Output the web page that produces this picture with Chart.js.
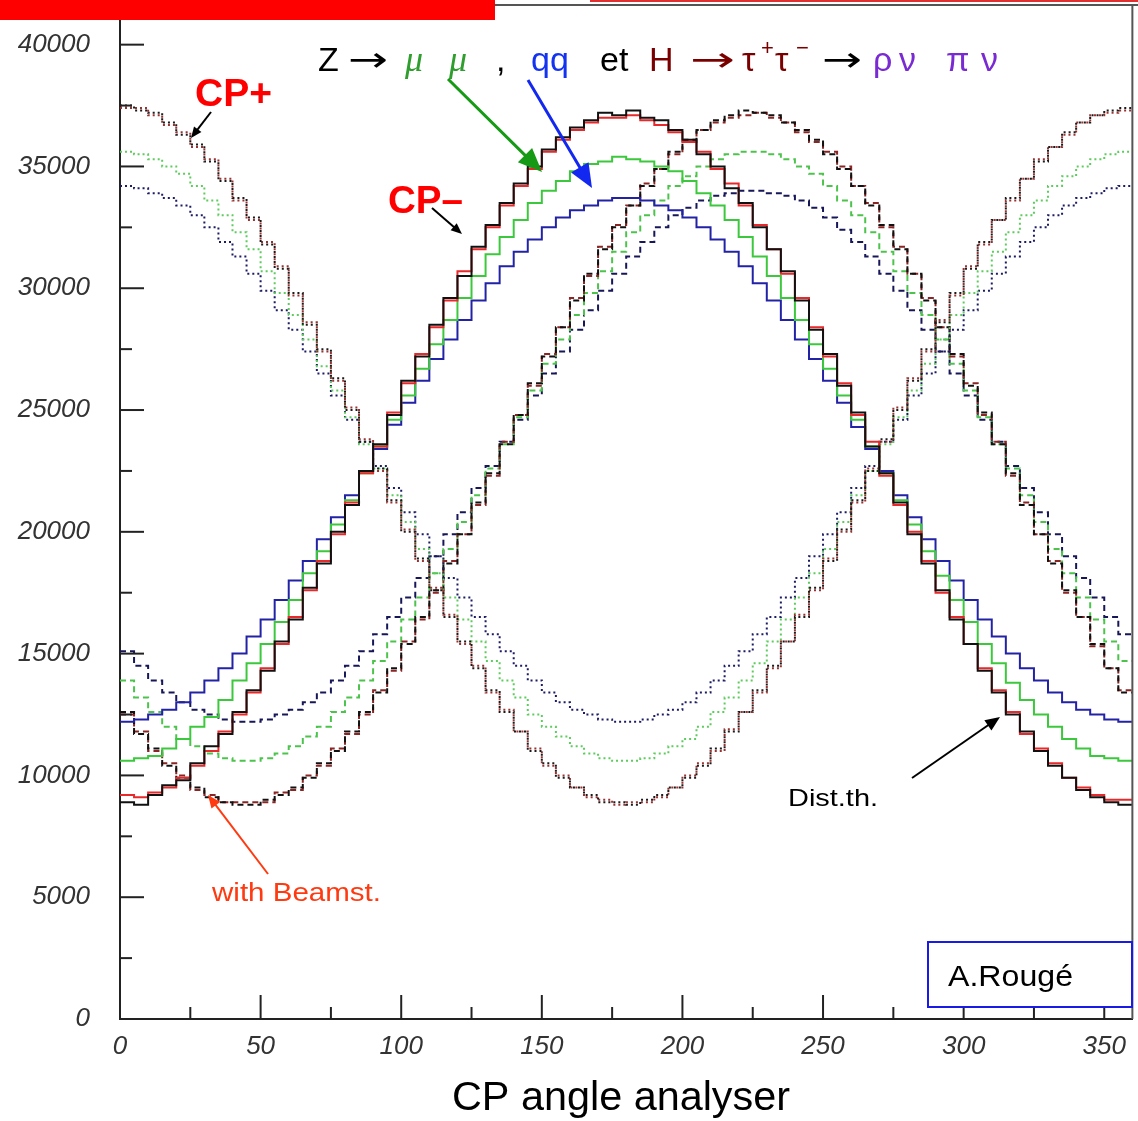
<!DOCTYPE html>
<html>
<head>
<meta charset="utf-8">
<script src="https://cdn.jsdelivr.net/npm/chart.js@4.4.1/dist/chart.umd.min.js"></script>
<style>
  html, body { margin: 0; padding: 0; background: #fff; }
  #wrap { position: relative; width: 1138px; height: 1121px; }
</style>
</head>
<body>
<div id="wrap"><canvas id="cpChart"></canvas></div>
<script>
// histogram bins: 72 bins of 5 degrees, 0 -> 360
const binWidth = 5;
const xTickValues = [0, 50, 100, 150, 200, 250, 300, 350];
const yTickValues = [0, 5000, 10000, 15000, 20000, 25000, 30000, 35000, 40000];

// CP- (solid), peak near 180
const cpMinusBlack = [8900, 8800, 9200, 9600, 9800, 10500, 11200, 11700, 12600, 13500, 14300, 15500, 16400, 17700, 18700, 20000, 21100, 22500, 23600, 24800, 26200, 27200, 28500, 29600, 30500, 31700, 32600, 33500, 34300, 35000, 35700, 36200, 36600, 36900, 37200, 37100,
  37300, 37000, 36900, 36500, 36100, 35500, 35000, 34100, 33500, 32500, 31600, 30700, 29500, 28300, 27300, 26000, 24900, 23500, 22400, 21200, 19900, 18700, 17600, 16400, 15400, 14300, 13400, 12500, 11800, 11000, 10400, 9900, 9400, 9100, 8900, 8800];
const cpMinusRed = [9200, 9100, 9300, 9500, 9900, 10400, 11000, 11800, 12500, 13400, 14400, 15400, 16500, 17600, 18800, 19900, 21200, 22400, 23500, 24900, 26100, 27300, 28400, 29500, 30700, 31600, 32500, 33400, 34200, 34900, 35600, 36100, 36500, 36800, 37000, 37000,
  37100, 36900, 36700, 36400, 36000, 35600, 34900, 34300, 33400, 32600, 31600, 30600, 29600, 28400, 27200, 26100, 24800, 23700, 22300, 21100, 20000, 18800, 17500, 16500, 15400, 14400, 13500, 12600, 11700, 11100, 10500, 9900, 9500, 9200, 9000, 9000];
const cpMinusGreen = [10600, 10700, 10800, 11100, 11500, 12000, 12400, 13100, 13900, 14600, 15400, 16300, 17200, 18300, 19200, 20300, 21300, 22400, 23500, 24600, 25600, 26700, 27700, 28700, 29600, 30500, 31400, 32100, 32800, 33500, 34000, 34400, 34800, 35100, 35200, 35400,
  35300, 35200, 35000, 34800, 34400, 33900, 33400, 32800, 32100, 31300, 30500, 29600, 28700, 27700, 26700, 25600, 24600, 23500, 22400, 21300, 20300, 19200, 18200, 17200, 16300, 15400, 14600, 13800, 13100, 12500, 12000, 11500, 11100, 10800, 10700, 10600];
const cpMinusBlue = [12200, 12300, 12500, 12700, 13000, 13400, 13900, 14400, 15000, 15700, 16400, 17200, 18000, 18800, 19700, 20600, 21500, 22500, 23400, 24400, 25300, 26200, 27100, 27900, 28700, 29500, 30200, 30900, 31500, 32000, 32500, 32900, 33200, 33400, 33600, 33700,
  33700, 33600, 33400, 33200, 32900, 32500, 32000, 31500, 30900, 30200, 29500, 28700, 27900, 27100, 26200, 25300, 24300, 23400, 22500, 21500, 20600, 19700, 18800, 18000, 17200, 16400, 15700, 15000, 14400, 13900, 13400, 13000, 12700, 12500, 12300, 12200];

// CP+ (dotted), peak at 0 / 360
const cpPlusBlack = [37500, 37300, 37200, 36800, 36300, 35900, 35200, 34400, 33700, 32900, 31800, 30800, 29800, 28500, 27500, 26300, 25000, 23700, 22600, 21300, 20000, 18900, 17600, 16500, 15500, 14400, 13500, 12600, 11800, 11000, 10500, 9900, 9500, 9200, 8900, 8900,
  8800, 9000, 9200, 9500, 9900, 10400, 11100, 11800, 12600, 13500, 14500, 15500, 16500, 17700, 18800, 20100, 21300, 22500, 23800, 25000, 26200, 27500, 28600, 29800, 30800, 31900, 32800, 33700, 34500, 35200, 35800, 36400, 36800, 37100, 37300, 37400];
const cpPlusRed = [37400, 37400, 37100, 36700, 36400, 35800, 35300, 34500, 33600, 32800, 31900, 30900, 29700, 28600, 27400, 26200, 25100, 23800, 22500, 21200, 20100, 18800, 17700, 16600, 15400, 14500, 13400, 12700, 11800, 11100, 10400, 10000, 9500, 9100, 9000, 8800,
  8900, 8900, 9100, 9500, 10000, 10500, 11000, 11900, 12600, 13400, 14400, 15500, 16600, 17600, 18900, 20000, 21200, 22600, 23700, 25100, 26300, 27400, 28700, 29700, 30900, 31800, 32800, 33600, 34500, 35300, 35800, 36300, 36800, 37100, 37200, 37300];
const cpPlusGreen = [35600, 35500, 35300, 35000, 34700, 34200, 33600, 33000, 32300, 31600, 30700, 29800, 28900, 27900, 26800, 25800, 24700, 23600, 22600, 21500, 20400, 19300, 18300, 17300, 16400, 15500, 14700, 13900, 13200, 12500, 12000, 11600, 11200, 10900, 10700, 10600,
  10600, 10700, 10900, 11200, 11500, 12000, 12600, 13200, 13900, 14600, 15500, 16400, 17300, 18300, 19300, 20400, 21500, 22500, 23600, 24700, 25800, 26900, 27900, 28900, 29800, 30700, 31500, 32300, 33000, 33600, 34200, 34600, 35000, 35300, 35500, 35600];
const cpPlusBlue = [34200, 34100, 33900, 33700, 33400, 33000, 32500, 31900, 31300, 30600, 29900, 29100, 28300, 27400, 26500, 25600, 24600, 23700, 22700, 21800, 20800, 19900, 19000, 18100, 17300, 16500, 15800, 15100, 14500, 13900, 13400, 13000, 12700, 12500, 12300, 12200,
  12200, 12300, 12500, 12700, 13000, 13400, 13900, 14500, 15100, 15800, 16500, 17300, 18100, 19000, 19900, 20800, 21800, 22700, 23700, 24600, 25600, 26500, 27400, 28300, 29100, 29900, 30600, 31300, 31900, 32500, 33000, 33400, 33700, 33900, 34100, 34200];

// with beamstrahlung (dashed), peak near 225
const beamBlack = [12600, 11700, 11100, 10400, 9900, 9500, 9100, 8900, 8800,
  8800, 9000, 9200, 9500, 9900, 10500, 11000, 11800, 12600, 13400, 14400, 15400, 16500, 17600, 18700, 19900, 21200, 22400, 23600, 24800, 26100, 27200, 28400, 29500, 30600, 31600, 32500, 33400, 34200, 34900, 35600, 36100, 36500, 36900, 37100, 37300,
  37200, 37100, 36800, 36500, 36100, 35500, 34900, 34200, 33400, 32600, 31600, 30600, 29500, 28400, 27300, 26000, 24900, 23600, 22400, 21100, 19900, 18700, 17600, 16500, 15400, 14400, 13400];
const beamRed = [12500, 11800, 11000, 10500, 10000, 9400, 9200, 8900, 8900,
  8900, 8900, 9300, 9400, 10000, 10400, 11100, 11700, 12500, 13500, 14300, 15500, 16400, 17500, 18800, 19900, 21100, 22300, 23700, 24800, 26000, 27300, 28400, 29600, 30500, 31700, 32600, 33400, 34300, 34900, 35500, 36000, 36500, 36800, 37000, 37100,
  37200, 37000, 36800, 36400, 36000, 35600, 35000, 34200, 33500, 32500, 31700, 30600, 29600, 28400, 27200, 26100, 24800, 23700, 22300, 21200, 19900, 18800, 17500, 16500, 15300, 14400, 13500];
const beamGreen = [13900, 13200, 12600, 12000, 11500, 11200, 10900, 10700, 10600,
  10600, 10700, 10900, 11200, 11600, 12000, 12600, 13200, 13900, 14700, 15500, 16400, 17300, 18300, 19300, 20400, 21500, 22600, 23600, 24700, 25800, 26900, 27900, 28900, 29800, 30700, 31500, 32300, 33000, 33600, 34200, 34600, 35000, 35300, 35500, 35600,
  35600, 35500, 35300, 35000, 34700, 34200, 33600, 33000, 32300, 31500, 30700, 29800, 28900, 27900, 26900, 25800, 24700, 23600, 22600, 21500, 20400, 19300, 18300, 17300, 16400, 15500, 14700];
const beamBlue = [15100, 14500, 13900, 13400, 13000, 12700, 12500, 12300, 12200,
  12200, 12300, 12500, 12700, 13000, 13400, 13900, 14500, 15100, 15800, 16500, 17300, 18100, 19000, 19900, 20800, 21800, 22700, 23700, 24600, 25600, 26500, 27400, 28300, 29100, 29900, 30600, 31300, 31900, 32500, 33000, 33300, 33600, 33800, 33900, 34000,
  34000, 33900, 33800, 33600, 33300, 32900, 32400, 31900, 31300, 30600, 29900, 29100, 28300, 27400, 26500, 25600, 24600, 23700, 22700, 21800, 20800, 19900, 19000, 18100, 17300, 16500, 15800];

// bin left edges + closing edge at 360
const toSteps = (vals) => {
  const pts = vals.map((v, i) => ({ x: i * binWidth, y: v }));
  pts.push({ x: vals.length * binWidth, y: vals[vals.length - 1] });
  return pts;
};

const series = [
  { data: cpMinusBlack, color: '#111111', dash: [], width: 2 },
  { data: cpMinusRed, color: '#e8282a', dash: [], width: 2 },
  { data: cpMinusGreen, color: '#3cc83c', dash: [], width: 2 },
  { data: cpMinusBlue, color: '#2222a6', dash: [], width: 2 },
  { data: cpPlusBlack, color: '#1a1a1a', dash: [2, 3], width: 2 },
  { data: cpPlusRed, color: '#9c3030', dash: [2, 3], width: 2 },
  { data: cpPlusGreen, color: '#5ccc5c', dash: [2, 3], width: 2 },
  { data: cpPlusBlue, color: '#1c1c66', dash: [2, 3], width: 2 },
  { data: beamBlack, color: '#111111', dash: [6, 4], width: 2 },
  { data: beamRed, color: '#8c2424', dash: [6, 4], width: 2 },
  { data: beamGreen, color: '#4cc44c', dash: [6, 4], width: 2 },
  { data: beamBlue, color: '#161658', dash: [6, 4], width: 2 }
];

const arrow = (ctx, x1, y1, x2, y2, color, lw, head) => {
  const a = Math.atan2(y2 - y1, x2 - x1);
  ctx.save();
  ctx.strokeStyle = color;
  ctx.fillStyle = color;
  ctx.lineWidth = lw;
  ctx.beginPath();
  ctx.moveTo(x1, y1);
  ctx.lineTo(x2 - Math.cos(a) * head * 0.8, y2 - Math.sin(a) * head * 0.8);
  ctx.stroke();
  ctx.beginPath();
  ctx.moveTo(x2, y2);
  ctx.lineTo(x2 - head * Math.cos(a - 0.4), y2 - head * Math.sin(a - 0.4));
  ctx.lineTo(x2 - head * Math.cos(a + 0.4), y2 - head * Math.sin(a + 0.4));
  ctx.closePath();
  ctx.fill();
  ctx.restore();
};

const text = (ctx, str, x, y, font, color, w) => {
  ctx.save();
  ctx.font = font;
  ctx.fillStyle = color;
  ctx.textBaseline = 'alphabetic';
  ctx.textAlign = 'left';
  if (w) {
    const m = ctx.measureText(str).width;
    ctx.translate(x, y);
    ctx.scale(w / m, 1);
    ctx.fillText(str, 0, 0);
  } else {
    ctx.fillText(str, x, y);
  }
  ctx.restore();
};

const decorations = {
  id: 'decorations',
  afterDraw(chart) {
    const ctx = chart.ctx;
    const xs = chart.scales.x;
    const ys = chart.scales.y;
    const area = chart.chartArea;

    // inward tick marks
    ctx.save();
    ctx.strokeStyle = '#222';
    ctx.lineWidth = 2;
    for (let v = 2500; v <= 40000; v += 2500) {
      const y = ys.getPixelForValue(v);
      const len = v % 5000 === 0 ? 24 : 12;
      ctx.beginPath();
      ctx.moveTo(area.left, y);
      ctx.lineTo(area.left + len, y);
      ctx.stroke();
    }
    for (let v = 25; v <= 350; v += 25) {
      const x = xs.getPixelForValue(v);
      const len = v % 50 === 0 ? 24 : 12;
      ctx.beginPath();
      ctx.moveTo(x, area.bottom);
      ctx.lineTo(x, area.bottom - len);
      ctx.stroke();
    }
    // axis line runs up to the banner
    ctx.beginPath();
    ctx.moveTo(area.left, 20);
    ctx.lineTo(area.left, area.top + 1);
    ctx.stroke();
    // frame
    ctx.strokeStyle = '#555';
    ctx.beginPath();
    ctx.moveTo(area.right, 5);
    ctx.lineTo(area.right, area.bottom);
    ctx.stroke();
    ctx.beginPath();
    ctx.moveTo(495, 5);
    ctx.lineTo(1138, 5);
    ctx.stroke();
    ctx.restore();

    // red banner at the top
    ctx.fillStyle = '#ff0000';
    ctx.fillRect(0, 0, 495, 20);
    ctx.fillStyle = '#e03030';
    ctx.fillRect(590, 0, 548, 2);

    // title
    const f = '34px "Liberation Sans", Arial, sans-serif';
    const fa = '34px "DejaVu Sans", sans-serif';
    const fi = 'italic 36px "Liberation Serif", serif';
    text(ctx, 'Z', 318, 71, f, '#000');
    text(ctx, '\u2192', 348, 71, fa, '#000', 40);
    text(ctx, '\u03bc', 405, 71, fi, '#2f9e2f');
    text(ctx, '\u03bc', 449, 71, fi, '#2f9e2f');
    text(ctx, ',', 496, 71, f, '#000');
    text(ctx, 'qq', 531, 71, f, '#1433f0');
    text(ctx, 'et', 600, 71, f, '#000');
    text(ctx, 'H', 649, 71, f, '#7a0000');
    text(ctx, '\u2192', 690, 71, fa, '#7a0000', 45);
    text(ctx, '\u03c4', 742, 71, f, '#7a0000');
    text(ctx, '+', 761, 55, '22px "Liberation Sans", sans-serif', '#7a0000');
    text(ctx, '\u03c4', 775, 71, f, '#7a0000');
    text(ctx, '\u2212', 796, 55, '22px "Liberation Sans", sans-serif', '#7a0000');
    text(ctx, '\u2192', 822, 71, fa, '#000', 40);
    text(ctx, '\u03c1', 873, 71, f, '#7a2ad2');
    text(ctx, '\u03bd', 899, 71, f, '#7a2ad2');
    text(ctx, '\u03c0', 946, 71, f, '#7a2ad2');
    text(ctx, '\u03bd', 981, 71, f, '#7a2ad2');

    arrow(ctx, 448, 79, 542, 172, '#169a16', 3, 26);
    arrow(ctx, 528, 80, 592, 188, '#1228f0', 3, 26);

    // CP labels
    const fb = 'bold 38px "Liberation Sans", Arial, sans-serif';
    text(ctx, 'CP+', 195, 106, fb, '#ff0000', 77);
    arrow(ctx, 211, 112, 191, 138, '#000', 2, 12);
    text(ctx, 'CP\u2013', 388, 213, fb, '#ff0000', 75);
    arrow(ctx, 432, 208, 462, 234, '#000', 2, 12);

    // beamstrahlung / theory notes
    text(ctx, 'with Beamst.', 212, 901, '26px "Liberation Sans Narrow", "Liberation Sans", sans-serif', '#ff3a10', 169);
    arrow(ctx, 268, 874, 208, 795, '#ff3a10', 2, 14);
    text(ctx, 'Dist.th.', 788, 806, '24px "Liberation Sans Narrow", "Liberation Sans", sans-serif', '#000', 90);
    arrow(ctx, 912, 778, 1000, 717, '#000', 2, 16);

    // author box
    ctx.save();
    ctx.fillStyle = '#fff';
    ctx.fillRect(928, 942, 204, 65);
    ctx.strokeStyle = '#1a1ae6';
    ctx.lineWidth = 2;
    ctx.strokeRect(928, 942, 204, 65);
    ctx.restore();
    text(ctx, 'A.Roug\u00e9', 948, 986, '30px "Liberation Sans Narrow", "Liberation Sans", sans-serif', '#000', 125);

    // x axis title
    text(ctx, 'CP angle analyser', 452, 1110, '40px "Liberation Sans Narrow", "Liberation Sans", sans-serif', '#000', 338);
  }
};

new Chart(document.getElementById('cpChart'), {
  type: 'line',
  data: {
    datasets: series.map((s) => ({
      data: toSteps(s.data),
      borderColor: s.color,
      borderWidth: s.width,
      borderDash: s.dash,
      stepped: true,
      pointRadius: 0,
      fill: false
    }))
  },
  options: {
    responsive: true,
    maintainAspectRatio: false,
    animation: false,
    layout: { padding: { top: 11, right: 2, left: 0, bottom: 0 } },
    plugins: { legend: { display: false }, tooltip: { enabled: false } },
    scales: {
      x: {
        type: 'linear',
        min: 0,
        max: 360,
        afterBuildTicks: (s) => { s.ticks = xTickValues.map((v) => ({ value: v })); },
        afterFit: (s) => { s.height = 102; },
        grid: { display: false, drawTicks: false },
        border: { display: true, color: '#222', width: 2 },
        ticks: {
          autoSkip: false,
          maxRotation: 0,
          padding: 12,
          color: '#333',
          callback: (v) => String(v),
          font: { family: '"Liberation Sans", Arial, sans-serif', size: 26, style: 'italic' }
        }
      },
      y: {
        min: 0,
        max: 40575,
        afterBuildTicks: (s) => { s.ticks = yTickValues.map((v) => ({ value: v })); },
        afterFit: (s) => { s.width = 120; },
        grid: { display: false, drawTicks: false },
        border: { display: true, color: '#222', width: 2 },
        ticks: {
          padding: 30,
          color: '#333',
          callback: (v) => String(v),
          font: { family: '"Liberation Sans", Arial, sans-serif', size: 26, style: 'italic', lineHeight: 0.05 }
        }
      }
    }
  },
  plugins: [decorations]
});
</script>
</body>
</html>
